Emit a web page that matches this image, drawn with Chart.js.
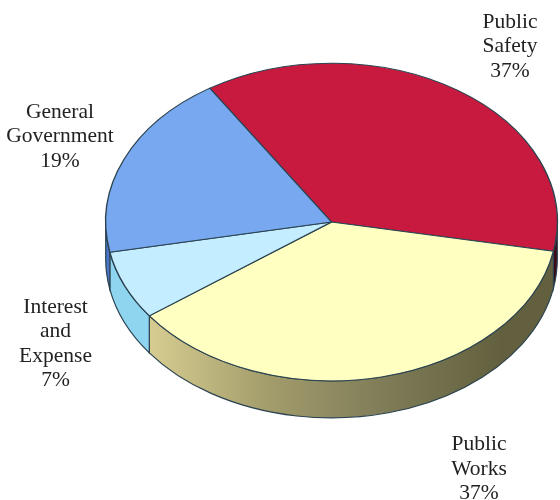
<!DOCTYPE html>
<html>
<head>
<meta charset="utf-8">
<style>
  html, body { margin: 0; padding: 0; background: #fff; }
  canvas { display: block; }
</style>
<script src="https://cdn.jsdelivr.net/npm/chart.js@4"></script>
</head>
<body>
<canvas id="chart" width="560" height="500"></canvas>
<script>
// Spending shares, in percent
const categories = ["Public Safety", "Public Works", "Interest and Expense", "General Government"];
const shares = [37, 37, 7, 19];
const labelLines = [["Public", "Safety"], ["Public", "Works"], ["Interest", "and", "Expense"], ["General", "Government"]];

// Slice styling
const topColors = ["#c8193f", "#ffffc2", "#c4eeff", "#78a8f0"];
const wallStops = [
  ["#5e0f1e", "#3c0a14"],
  ["#d6cc90", "#a39d6c", "#7f7c58", "#62603e"],
  ["#8fd5f0", "#8fd5f0"],
  ["#4a74c8", "#4a74c8"]
];
const edgeColor = "#2b4350";

// Label placement: centre x and first baseline y
const labelAnchors = [[510, 27.5], [479, 450], [55.5, 312.5], [60, 117.5]];
const labelLeading = 24.6;

// Tilted-disc projection of the pie
const tilt = { cx: 331.5, cy: 222, squash: 0.7035, depth: 37 };

const tiltedPie = {
  id: "tiltedPie",
  beforeDatasetsDraw(chart) {
    const { ctx } = chart;
    const arcs = chart.getDatasetMeta(0).data;
    const full = Math.PI * 2;
    arcs.forEach((arc, i) => {
      const rx = arc.outerRadius;
      const ry = rx * tilt.squash;
      const gradient = ctx.createLinearGradient(tilt.cx - rx * 0.8, 0, tilt.cx + rx * 0.75, 0);
      wallStops[i].forEach((c, n) => gradient.addColorStop(n / (wallStops[i].length - 1), c));
      // Only the front half of the rim is visible
      const from = ((arc.startAngle % full) + full) % full;
      const to = from + (arc.endAngle - arc.startAngle);
      [0, full].forEach(turn => {
        const lo = Math.max(from, turn);
        const hi = Math.min(to, turn + Math.PI);
        if (hi <= lo) return;
        ctx.beginPath();
        ctx.ellipse(tilt.cx, tilt.cy, rx, ry, 0, lo, hi);
        ctx.ellipse(tilt.cx, tilt.cy + tilt.depth, rx, ry, 0, hi, lo, true);
        ctx.closePath();
        ctx.fillStyle = gradient;
        ctx.fill();
        ctx.strokeStyle = edgeColor;
        ctx.lineWidth = 1.2;
        ctx.stroke();
      });
    });
    const first = arcs[0];
    ctx.save();
    ctx.translate(tilt.cx, tilt.cy);
    ctx.scale(1, tilt.squash);
    ctx.translate(-first.x, -first.y);
  },
  afterDatasetsDraw(chart) {
    const { ctx } = chart;
    ctx.restore();
    ctx.save();
    ctx.font = '21.5px "Liberation Serif", serif';
    ctx.fillStyle = "#222222";
    ctx.textAlign = "center";
    ctx.textBaseline = "alphabetic";
    categories.forEach((_, i) => {
      const [x, y] = labelAnchors[i];
      const lines = [...labelLines[i], shares[i] + "%"];
      lines.forEach((line, n) => ctx.fillText(line, x, y + n * labelLeading));
    });
    ctx.restore();
  }
};

new Chart(document.getElementById("chart"), {
  type: "pie",
  data: {
    labels: categories,
    datasets: [{
      data: shares,
      backgroundColor: topColors,
      borderColor: edgeColor,
      borderWidth: 1.4,
      clip: false
    }]
  },
  options: {
    responsive: false,
    animation: false,
    rotation: -32.6,
    layout: { padding: { left: 104, right: 3, top: 20, bottom: 20 } },
    plugins: { legend: { display: false }, tooltip: { enabled: false } }
  },
  plugins: [tiltedPie]
});
</script>
</body>
</html>
